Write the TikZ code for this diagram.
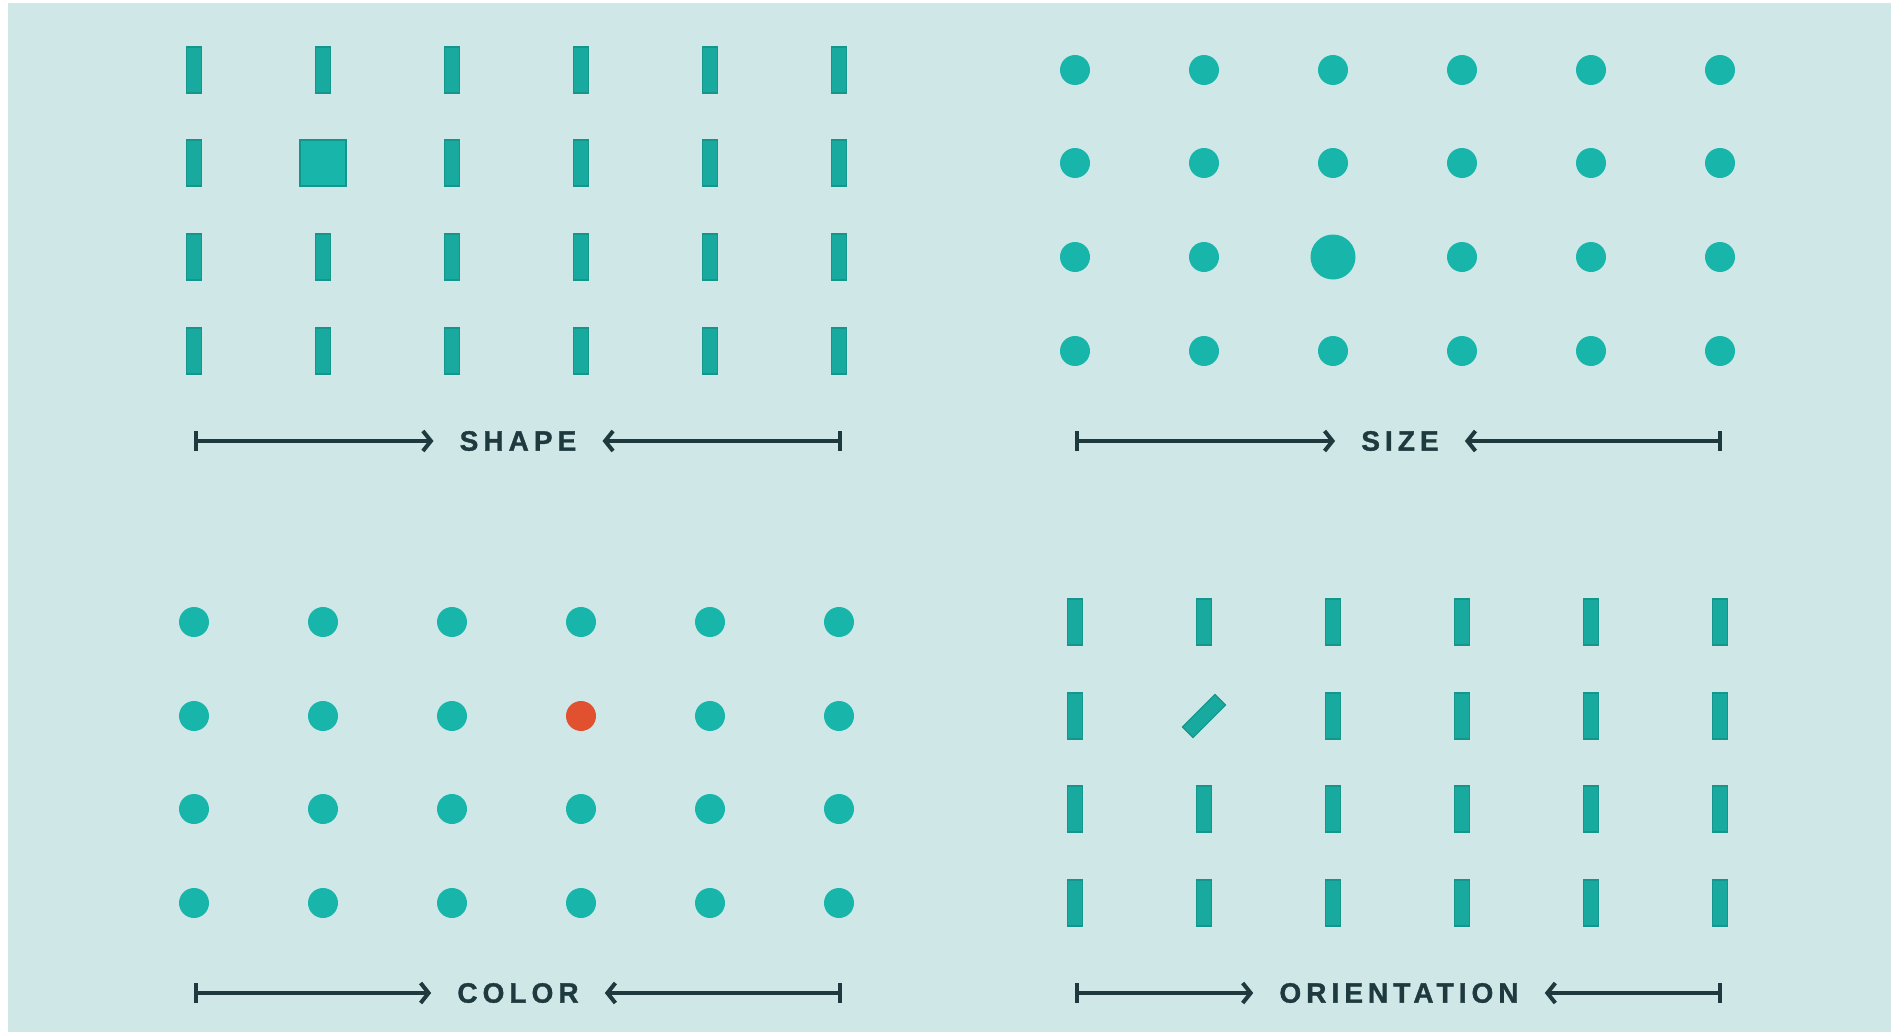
\documentclass[tikz,border=0pt]{standalone}
\usepackage{fontspec}
\newfontfamily\labelfont[LetterSpace=18,FakeBold=1.2]{Liberation Sans}
\usetikzlibrary{arrows.meta}
\definecolor{bgc}{HTML}{D0E7E7}
\definecolor{teal}{HTML}{17B5AA}
\definecolor{barc}{HTML}{19AA9F}
\definecolor{barline}{HTML}{15968D}
\definecolor{redc}{HTML}{E2512F}
\definecolor{ink}{HTML}{1E3A3E}
\tikzset{
  barshape/.style={draw=barline, line width=1.2pt, fill=barc, minimum width=15pt, minimum height=46pt, inner sep=0pt, rectangle},
  sqshape/.style={draw=barline, line width=1.2pt, fill=teal, minimum width=46pt, minimum height=46pt, inner sep=0pt, rectangle},
  dotshape/.style={circle, fill=teal, minimum size=30pt, inner sep=0pt},
  bigdot/.style={circle, fill=teal, minimum size=45pt, inner sep=0pt},
  reddot/.style={circle, fill=redc, minimum size=30pt, inner sep=0pt},
  lbl/.style={text=ink, font=\labelfont\bfseries\fontsize{28}{28}\selectfont, inner sep=0pt, anchor=center},
  scale line/.style={draw=ink, line width=4.2pt, {Bar[width=20pt,line width=4pt]}-{Straight Barb[length=8pt,width=20pt,line width=4pt]}},
}
\begin{document}
\begin{tikzpicture}[x=1pt,y=-1pt]
\useasboundingbox (0,0) rectangle (1891,1033);
\fill[white] (0,0) rectangle (1891,1033);
\fill[bgc] (8,3) rectangle (1891,1032);
% top-left: shape
\foreach \c [count=\i] in {194,323,452,581,710,839}{
  \foreach \r [count=\j] in {70,163,257,351}{
    \ifnum\i=2 \ifnum\j=2
      \node[sqshape] (tl-\i-\j) at (\c,\r) {};
    \else
      \node[barshape] (tl-\i-\j) at (\c,\r) {};
    \fi\else
      \node[barshape] (tl-\i-\j) at (\c,\r) {};
    \fi
  }
}
% top-right: size
\foreach \c [count=\i] in {1075,1204,1333,1462,1591,1720}{
  \foreach \r [count=\j] in {70,163,257,351}{
    \ifnum\i=3 \ifnum\j=3
      \node[bigdot] (tr-\i-\j) at (\c,\r) {};
    \else
      \node[dotshape] (tr-\i-\j) at (\c,\r) {};
    \fi\else
      \node[dotshape] (tr-\i-\j) at (\c,\r) {};
    \fi
  }
}
% bottom-left: color
\foreach \c [count=\i] in {194,323,452,581,710,839}{
  \foreach \r [count=\j] in {622,716,809,903}{
    \ifnum\i=4 \ifnum\j=2
      \node[reddot] (bl-\i-\j) at (\c,\r) {};
    \else
      \node[dotshape] (bl-\i-\j) at (\c,\r) {};
    \fi\else
      \node[dotshape] (bl-\i-\j) at (\c,\r) {};
    \fi
  }
}
% bottom-right: orientation
\foreach \c [count=\i] in {1075,1204,1333,1462,1591,1720}{
  \foreach \r [count=\j] in {622,716,809,903}{
    \ifnum\i=2 \ifnum\j=2
      \node[barshape, rotate=-45] (br-\i-\j) at (\c,\r) {};
    \else
      \node[barshape] (br-\i-\j) at (\c,\r) {};
    \fi\else
      \node[barshape] (br-\i-\j) at (\c,\r) {};
    \fi
  }
}
% labels and arrows
\node[lbl] (shape) at (518,441) {SHAPE};
\coordinate (shapeL) at (194,441);
\coordinate (shapeR) at (842,441);
\draw[scale line] (shapeL) -- ([xshift=-26pt]shape.west);
\draw[scale line] (shapeR) -- ([xshift=26pt]shape.east);

\node[lbl] (size) at (1400,441) {SIZE};
\coordinate (sizeL) at (1075,441);
\coordinate (sizeR) at (1722,441);
\draw[scale line] (sizeL) -- ([xshift=-26pt]size.west);
\draw[scale line] (sizeR) -- ([xshift=26pt]size.east);

\node[lbl] (color) at (518,993) {COLOR};
\coordinate (colorL) at (194,993);
\coordinate (colorR) at (842,993);
\draw[scale line] (colorL) -- ([xshift=-26pt]color.west);
\draw[scale line] (colorR) -- ([xshift=26pt]color.east);

\node[lbl] (orient) at (1399,993) {ORIENTATION};
\coordinate (orientL) at (1075,993);
\coordinate (orientR) at (1722,993);
\draw[scale line] (orientL) -- ([xshift=-26pt]orient.west);
\draw[scale line] (orientR) -- ([xshift=26pt]orient.east);
\end{tikzpicture}
\end{document}
